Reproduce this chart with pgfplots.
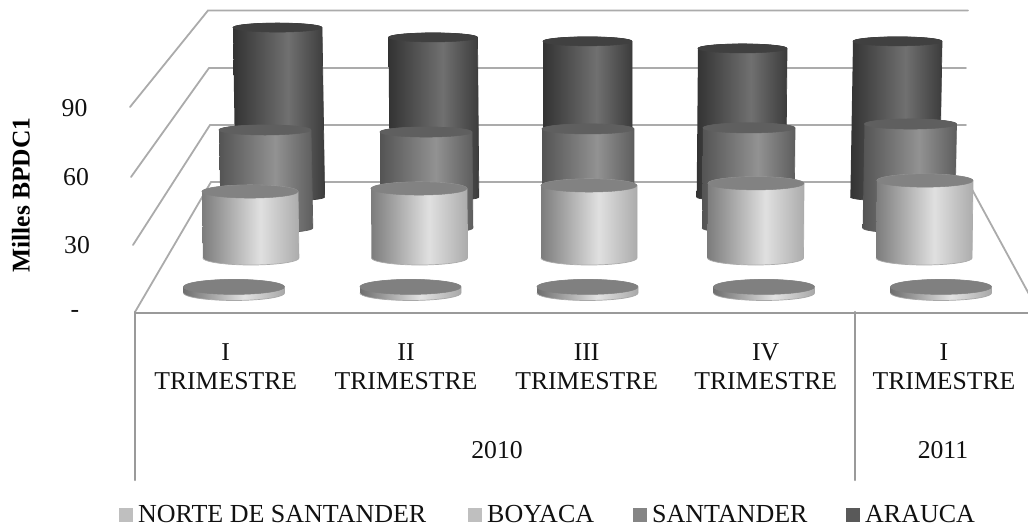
\documentclass[border=0pt]{standalone}
\usepackage{pgfplots}
\usepackage{pgfplotstable}
\usepackage{fontspec}
\setmainfont{Liberation Serif}
\pgfplotsset{compat=1.18}
\definecolor{gridc}{HTML}{ABABAB}
\definecolor{axisc}{HTML}{9A9A9A}
\definecolor{txt}{HTML}{111111}
\definecolor{nA}{HTML}{6E6E6E}\definecolor{nB}{HTML}{E2E2E2}\definecolor{nC}{HTML}{A8A8A8}
\definecolor{bA}{HTML}{7C7C7C}\definecolor{bB}{HTML}{E0E0E0}\definecolor{bC}{HTML}{ACACAC}
\definecolor{sA}{HTML}{545454}\definecolor{sB}{HTML}{929292}\definecolor{sC}{HTML}{5E5E5E}
\definecolor{aA}{HTML}{333333}\definecolor{aB}{HTML}{707070}\definecolor{aC}{HTML}{3C3C3C}
\pgfdeclarehorizontalshading{shN}{100bp}{color(0bp)=(nA);color(25bp)=(nA);color(55bp)=(nB);color(75bp)=(nC);color(100bp)=(nC)}
\pgfdeclarehorizontalshading{shB}{100bp}{color(0bp)=(bA);color(25bp)=(bA);color(55bp)=(bB);color(75bp)=(bC);color(100bp)=(bC)}
\pgfdeclarehorizontalshading{shS}{100bp}{color(0bp)=(sA);color(25bp)=(sA);color(55bp)=(sB);color(75bp)=(sC);color(100bp)=(sC)}
\pgfdeclarehorizontalshading{shA}{100bp}{color(0bp)=(aA);color(25bp)=(aA);color(55bp)=(aB);color(75bp)=(aC);color(100bp)=(aC)}
% values in thousands of barrels per day; cx = screen centre of each series' cylinder
\pgfplotstableread{
idx  arauca santander boyaca norte cxA cxS cxB cxN
0    86.0   47.8      30.9   2.7   277.5 265 250 234
1    81.0   46.8      32.3   2.7   433   426 419 410.5
2    79.0   48.3      33.7   2.7   587.5 588 589 587.5
3    75.4   48.8      34.7   2.7   742.5 749 756 764
4    79.0   50.7      36.0   2.7   897.5 910.5 925 941
}\datatable
\newcommand\cyl[2]{%
  \pgfmathsetmacro\cyTop{\sBot-#2*\sScale}%
  \pgfmathsetmacro\cxB{#1+\sLean*(587.5-#1)/353}%
  \gdef\pts{}%
  \foreach \a in {180,170,...,0}{%
    \pgfmathsetmacro\px{#1+\sRx*cos(\a)}\pgfmathsetmacro\py{\cyTop-\sRyT*sin(\a)}%
    \xdef\pts{\pts (\px,\py)}}%
  \foreach \a in {0,-10,...,-180}{%
    \pgfmathsetmacro\px{\cxB+\sRx*cos(\a)}\pgfmathsetmacro\py{\sBot-\sRyB*sin(\a)}%
    \xdef\pts{\pts (\px,\py)}}%
  \edef\doit{\noexpand\addplot[draw=\sEdge,line width=0.7pt,line join=round,shade,shading=\sShade,forget plot] coordinates {\pts} \noexpand\closedcycle;}%
  \edef\doit{\noexpand\addplot[draw=\sEdge,line width=0.7pt,line join=round,shade,shading=\sShade,forget plot] coordinates {\pts};}\doit
  \gdef\pts{}%
  \foreach \a in {0,10,...,350}{%
    \pgfmathsetmacro\px{#1+\sRx*cos(\a)}\pgfmathsetmacro\py{\cyTop-\sRyT*sin(\a)}%
    \xdef\pts{\pts (\px,\py)}}%
  \edef\doit{\noexpand\addplot[draw=\sCap,line width=0.5pt,fill=\sCap,forget plot] coordinates {\pts};}\doit
}
\newcommand\series[2]{% column of values, column of centres
  \foreach \i in {0,...,4}{%
    \pgfplotstablegetelem{\i}{#1}\of\datatable\let\vv\pgfplotsretval
    \pgfplotstablegetelem{\i}{#2}\of\datatable\let\cc\pgfplotsretval
    \cyl{\cc}{\vv}}%
}
\definecolor{capA}{HTML}{404040}\definecolor{capS}{HTML}{5F5F5F}\definecolor{capB}{HTML}{828282}\definecolor{capN}{HTML}{808080}
\begin{document}
\begin{tikzpicture}
\begin{axis}[scale only axis,width=1028pt,height=527pt,xmin=0,xmax=1028,ymin=0,ymax=527,y dir=reverse,axis lines=none,clip=true,
  every axis plot/.append style={line cap=round}]
\addplot[draw=none,forget plot] coordinates {(0,0)(1028,527)};
% gridlines
\addplot[gridc,line width=1.8pt,forget plot] coordinates {(130,107)(208,10.5)(968,10.5)};
\addplot[gridc,line width=1.8pt,forget plot] coordinates {(131,177)(209,68)(966,68)};
\addplot[gridc,line width=1.8pt,forget plot] coordinates {(133,245)(210,125)(966,125)};
\addplot[gridc,line width=1.8pt,forget plot] coordinates {(135,312)(211,182)(968,182)(1030,296)};
\addplot[axisc,line width=2pt,forget plot] coordinates {(135,312.5)(1028,312.5)};
\addplot[axisc,line width=2.4pt,forget plot] coordinates {(135,312)(135,480)};
\addplot[axisc,line width=2.4pt,forget plot] coordinates {(855,312)(855,480)};
% cylinders, back to front
\def\sBot{197}\def\sScale{1.97}\def\sRx{44.5}\def\sRyT{4.5}\def\sRyB{4}\def\sLean{3}\def\sShade{shA}\def\sCap{capA}\def\sEdge{aC}
\series{arauca}{cxA}
\def\sBot{228}\def\sScale{2.05}\def\sRx{46}\def\sRyT{5}\def\sRyB{5}\def\sLean{2}\def\sShade{shS}\def\sCap{capS}\def\sEdge{sC}
\series{santander}{cxS}
\def\sBot{258}\def\sScale{2.15}\def\sRx{48}\def\sRyT{6.5}\def\sRyB{7}\def\sLean{1}\def\sShade{shB}\def\sCap{capB}\def\sEdge{bC}
\series{boyaca}{cxB}
\def\sBot{293}\def\sScale{2.25}\def\sRx{50.5}\def\sRyT{7.5}\def\sRyB{7.5}\def\sLean{0}\def\sShade{shN}\def\sCap{capN}\def\sEdge{nC}
\series{norte}{cxN}
% legend markers
\addplot[only marks,mark=square*,mark size=6.5pt,color=black!25,forget plot] coordinates {(125.5,514.5)};
\addplot[only marks,mark=square*,mark size=6.5pt,color=black!25,forget plot] coordinates {(474.5,514.5)};
\addplot[only marks,mark=square*,mark size=6.5pt,color=black!48,forget plot] coordinates {(640,514.5)};
\addplot[only marks,mark=square*,mark size=6.5pt,color=black!65,forget plot] coordinates {(853,514.5)};
% text
\begingroup
\def\lab#1#2#3{\node[font=\fontsize{25.7}{25.7}\selectfont,text=txt,inner sep=0pt,anchor=center] at (axis cs:#1,#2) {#3};}
\lab{74.5}{108}{90}\lab{76}{177}{60}\lab{77}{245}{30}\lab{75}{314}{-}
\lab{225.7}{352}{I}\lab{225.7}{381.5}{TRIMESTRE}
\lab{406}{352}{II}\lab{406}{381.5}{TRIMESTRE}
\lab{586.7}{352}{III}\lab{586.7}{381.5}{TRIMESTRE}
\lab{765.7}{352}{IV}\lab{765.7}{381.5}{TRIMESTRE}
\lab{944}{352}{I}\lab{944}{381.5}{TRIMESTRE}
\lab{497}{450}{2010}\lab{943}{450}{2011}
\def\leg#1#2{\node[font=\fontsize{26}{26}\selectfont,text=txt,inner sep=0pt,anchor=west] at (axis cs:#1,513.8) {#2};}
\leg{138}{NORTE DE SANTANDER}\leg{487}{BOYACA}\leg{652}{SANTANDER}\leg{865}{ARAUCA}
\node[font=\fontsize{25.5}{25.5}\selectfont\bfseries,text=black,rotate=90,inner sep=0pt,anchor=center] at (axis cs:21,195) {Milles BPDC1};
\endgroup
\end{axis}
\end{tikzpicture}
\end{document}
